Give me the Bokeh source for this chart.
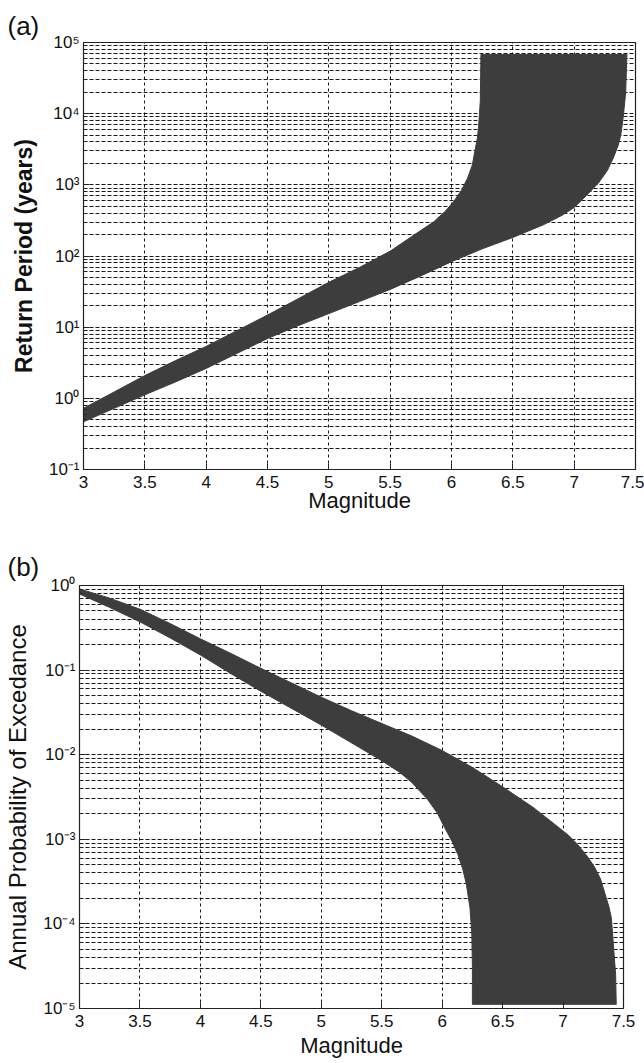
from bokeh.plotting import figure
from bokeh.models import FixedTicker, Title, CustomJSTickFormatter, Range1d
from bokeh.layouts import column, row
from bokeh.embed import file_html
from bokeh.resources import INLINE

FONT = "Liberation Sans"
BAND = "#3d3d3d"

# ---- tick values / labels ----
mag_ticks = [3.0, 3.5, 4.0, 4.5, 5.0, 5.5, 6.0, 6.5, 7.0, 7.5]
mag_tick_labels = ["3", "3.5", "4", "4.5", "5", "5.5", "6", "6.5", "7", "7.5"]

rp_decades = [1e-1, 1e0, 1e1, 1e2, 1e3, 1e4, 1e5]
rp_decade_labels = ["10⁻¹", "10⁰", "10¹", "10²", "10³", "10⁴", "10⁵"]

pe_decades = [1e-5, 1e-4, 1e-3, 1e-2, 1e-1, 1e0]
pe_decade_labels = ["10⁻⁵", "10⁻⁴", "10⁻³", "10⁻²", "10⁻¹", "10⁰"]

# ---- panel (a): return period band edges (years) ----
rp_upper_mag = [3.0, 3.25, 3.5, 3.75, 4.0, 4.25, 4.5, 4.75, 5.0, 5.25, 5.5, 5.7, 5.855, 5.95,
                6.02, 6.08, 6.13, 6.17, 6.19, 6.21, 6.22, 6.235, 6.24]
rp_upper = [0.724, 1.23, 2.09, 3.39, 5.37, 8.91, 14.8, 25.1, 42.7, 69.2, 117, 200, 302, 427,
            589, 832, 1230, 1905, 2951, 4467, 6310, 15136, 67608]
rp_lower_mag = [3.0, 3.25, 3.5, 3.75, 4.0, 4.25, 4.5, 4.75, 5.0, 5.25, 5.5, 5.75, 6.0, 6.25,
                6.5, 6.75, 6.9, 7.0, 7.1, 7.2, 7.27, 7.32, 7.36, 7.38, 7.40, 7.42, 7.43]
rp_lower = [0.468, 0.724, 1.12, 1.70, 2.63, 4.27, 6.92, 10.5, 15.5, 22.9, 33.9, 52.5, 83.2, 126,
            182, 275, 372, 479, 708, 1072, 1585, 2399, 3631, 5012, 8913, 19953, 67608]

# ---- panel (b): annual probability of exceedance band edges ----
pe_upper_mag = [3.0, 3.25, 3.5, 3.75, 4.0, 4.25, 4.5, 4.75, 5.0, 5.25, 5.5, 5.75, 6.0, 6.25,
                6.5, 6.75, 6.93, 7.05, 7.12, 7.2, 7.26, 7.31, 7.34, 7.38, 7.40, 7.42, 7.435, 7.44]
pe_upper = [0.912, 0.708, 0.525, 0.355, 0.234, 0.158, 0.105, 0.0708, 0.0479, 0.0331, 0.0234,
            0.0166, 0.0112, 0.00708, 0.00417, 0.0024, 0.00151, 0.0011, 0.00087, 0.00063,
            0.00047, 0.00034, 0.000245, 0.000158, 0.000117, 4.8e-5, 2.5e-5, 1.12e-5]
pe_lower_mag = [3.0, 3.25, 3.5, 3.75, 4.0, 4.25, 4.5, 4.75, 5.0, 5.25, 5.5, 5.65, 5.75, 5.88,
                5.96, 6.02, 6.08, 6.13, 6.17, 6.20, 6.23, 6.245, 6.25, 6.25]
pe_lower = [0.794, 0.55, 0.372, 0.24, 0.151, 0.0912, 0.0562, 0.0355, 0.0224, 0.0138, 0.0085,
            0.00617, 0.00468, 0.00295, 0.00204, 0.00138, 0.000955, 0.00066, 0.000447,
            0.000295, 0.000155, 7.6e-5, 3.2e-5, 1.12e-5]

FMT_CODE = """
let best = -1, bd = 1e9;
for (let i = 0; i < tvals.length; i++) {
  const d = logscale ? Math.abs(Math.log10(tvals[i]) - Math.log10(tick)) : Math.abs(tvals[i] - tick);
  if (d < bd) { bd = d; best = i; }
}
return (best >= 0 && bd < 1e-6) ? tlabels[best] : '';
"""


def make_panel(width, height, yr, decades, dec_labels, mb, ylabel, ylabel_style, ylabel_size,
               xs_up, ys_up, xs_lo, ys_lo, tag, tag_offset, tag_standoff, x_lab_standoff):
    p = figure(width=width, height=height, x_range=Range1d(3, 7.5), y_range=Range1d(*yr),
               y_axis_type="log", output_backend="svg", toolbar_location=None,
               min_border_left=mb[0], min_border_right=mb[1],
               min_border_top=mb[2], min_border_bottom=mb[3])
    p.outline_line_color = "#222222"
    p.outline_line_width = 1.2

    minors = [k * d for d in decades[:-1] for k in range(2, 10)]
    yt = FixedTicker(ticks=decades, minor_ticks=minors)
    xt = FixedTicker(ticks=mag_ticks, minor_ticks=[])
    p.yaxis.ticker = yt
    p.xaxis.ticker = xt
    p.ygrid.ticker = yt
    p.xgrid.ticker = xt
    p.yaxis.formatter = CustomJSTickFormatter(args=dict(tvals=decades, tlabels=dec_labels, logscale=True), code=FMT_CODE)
    p.xaxis.formatter = CustomJSTickFormatter(args=dict(tvals=mag_ticks, tlabels=mag_tick_labels, logscale=False), code=FMT_CODE)

    for ax in (p.xaxis, p.yaxis):
        ax.axis_line_color = "#222222"
        ax.major_tick_in = 6
        ax.major_tick_out = 0
        ax.minor_tick_in = 3
        ax.minor_tick_out = 0
        ax.major_tick_line_color = "#222222"
        ax.minor_tick_line_color = "#222222"
        ax.major_label_text_font = FONT
        ax.major_label_text_font_size = "17px"
        ax.major_label_text_color = "#111111"
        ax.axis_label_text_font = FONT
        ax.axis_label_text_color = "#111111"

    p.xaxis.axis_label = "Magnitude"
    p.xaxis.axis_label_text_font_size = "22px"
    p.xaxis.axis_label_text_font_style = "normal"
    p.xaxis.major_label_standoff = 6
    p.xaxis.axis_label_standoff = x_lab_standoff
    p.yaxis.axis_label = ylabel
    p.yaxis.axis_label_text_font_size = ylabel_size
    p.yaxis.axis_label_text_font_style = ylabel_style
    p.yaxis.major_label_standoff = 4
    p.yaxis.axis_label_standoff = 9

    p.xgrid.grid_line_color = "black"
    p.xgrid.grid_line_dash = "3 3"
    p.xgrid.grid_line_width = 1
    p.xgrid.grid_line_alpha = 0.9
    p.ygrid.grid_line_color = "black"
    p.ygrid.grid_line_dash = "4 2"
    p.ygrid.grid_line_width = 1
    p.ygrid.grid_line_alpha = 0.9
    p.ygrid.minor_grid_line_color = "black"
    p.ygrid.minor_grid_line_dash = "4 2"
    p.ygrid.minor_grid_line_width = 1
    p.ygrid.minor_grid_line_alpha = 0.9

    xs = list(xs_up) + list(reversed(xs_lo))
    ys = list(ys_up) + list(reversed(ys_lo))
    p.patch(xs, ys, fill_color=BAND, line_color=BAND, line_width=1)

    p.title = Title(text=tag, align="left", offset=tag_offset, standoff=tag_standoff,
                    text_font=FONT, text_font_size="26px", text_font_style="normal",
                    text_color="#111111")
    return p


# panel a: frame x 83..635, y 42..469 (page, no body margin)
pa = make_panel(644, 540, (0.1, 1e5), rp_decades, rp_decade_labels, (83, 9, 42, 71),
                "Return Period (years)", "bold", "23px",
                rp_upper_mag, rp_upper, rp_lower_mag, rp_lower, "(a)", -76, 3, -3)
# panel b: frame x 79..623, y 585..1008 (page)
pb = make_panel(644, 522, (1e-5, 1), pe_decades, pe_decade_labels, (79, 21, 45, 54),
                "Annual Probability of Excedance", "normal", "24px",
                pe_upper_mag, pe_upper, pe_lower_mag, pe_lower, "(b)", -72, 8, 3)

layout = column(row(pa), row(pb), spacing=0)
open("out.html", "w").write(file_html(layout, INLINE))
